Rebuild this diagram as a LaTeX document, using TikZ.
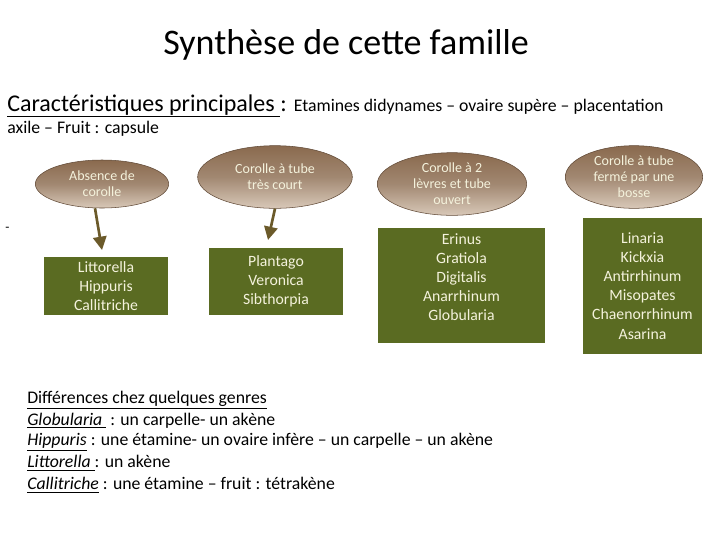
\documentclass[tikz,border=0pt]{standalone}
\usepackage{fontspec}
\setmainfont{Carlito}
\usetikzlibrary{shapes.geometric,arrows.meta}
\definecolor{olive}{HTML}{5A6B22}
\definecolor{brn}{HTML}{8A6A4E}
\definecolor{brnl}{HTML}{D8C8B8}
\definecolor{arr}{HTML}{6B5A2A}
\definecolor{txt}{HTML}{F4F2DC}
\tikzset{
 ell/.style={ellipse,draw=brn!70!black,inner sep=0pt,top color=brn,bottom color=brnl,middle color=brn!80!white,text=txt,font=\fontsize{10.5pt}{12pt}\selectfont,align=center},
 box/.style={draw=none,fill=olive,text=txt,font=\fontsize{11.8pt}{14.3pt}\selectfont,align=center,inner sep=0pt},
 boxtext/.style={text=txt,font=\fontsize{11.8pt}{14.3pt}\selectfont,align=center,inner sep=0pt},
 arw/.style={draw=arr,line width=2pt,-{Triangle[length=10pt,width=10pt]}},
 txt1/.style={anchor=west,inner sep=0pt,font=\fontsize{13.3pt}{15pt}\selectfont}
}
\begin{document}
\begin{tikzpicture}[x=0.75pt,y=-0.75pt]
\useasboundingbox (0,0) rectangle (720,540);
\node[font=\fontsize{27pt}{30pt}\selectfont,inner sep=0pt] (title) at (346,45) {Synthèse de cette famille};
\node[anchor=base west,inner sep=0pt] (car) at (7,111) {\fontsize{18pt}{20pt}\selectfont\underline{Caractéristiques principales }: \fontsize{13.3pt}{15pt}\selectfont Etamines didynames -- ovaire supère -- placentation};
\node[anchor=base west,inner sep=0pt,font=\fontsize{13.3pt}{15pt}\selectfont] (car2) at (7,133) {axile -- Fruit : capsule};
\node[anchor=west,inner sep=0pt] (dash) at (5,229) {-};
\node[ell,minimum width=100pt,minimum height=36pt] (e1) at (102,184) {Absence de\\corolle};
\node[ell,minimum width=116pt,minimum height=47pt] (e2) at (275,177) {Corolle à tube\\très court};
\node[ell,minimum width=112pt,minimum height=47pt] (e3) at (452,184) {Corolle à 2\\lèvres et tube\\ouvert};
\node[ell,minimum width=103pt,minimum height=47pt] (e4) at (634,177) {Corolle à tube\\fermé par une\\bosse};
\node[box,minimum width=93pt,minimum height=43.5pt] (b1) at (106,286) {Littorella\\Hippuris\\Callitriche};
\node[box,minimum width=100.5pt,minimum height=50pt] (b2) at (276,281.5) {Plantago\\Veronica\\Sibthorpia};
\node[box,minimum width=125pt,minimum height=86pt] (b3) at (461.5,285.5) {};
\node[boxtext] (b3t) at (461.5,277) {Erinus\\Gratiola\\Digitalis\\Anarrhinum\\Globularia};
\node[box,minimum width=89pt,minimum height=102pt] (b4) at (642.5,286) {Linaria\\Kickxia\\Antirrhinum\\Misopates\\Chaenorrhinum\\Asarina};
\coordinate (a1) at (102,250);
\coordinate (a2) at (268,240);
\draw[arw] (e1.south) ++(-7,0) -- (a1);
\draw[arw] (e2.south) -- (a2);
\node[txt1] (t1) at (27,400) {\underline{Différences chez quelques genres}};
\node[txt1] (t2) at (27,421) {\underline{\textit{Globularia} } : un carpelle- un akène};
\node[txt1] (t3) at (27,442) {\underline{\textit{Hippuris}} : une étamine- un ovaire infère -- un carpelle -- un akène};
\node[txt1] (t4) at (27,463) {\underline{\textit{Littorella} }: un akène};
\node[txt1] (t5) at (27,485) {\underline{\textit{Callitriche}} : une étamine -- fruit : tétrakène};
\end{tikzpicture}
\end{document}
